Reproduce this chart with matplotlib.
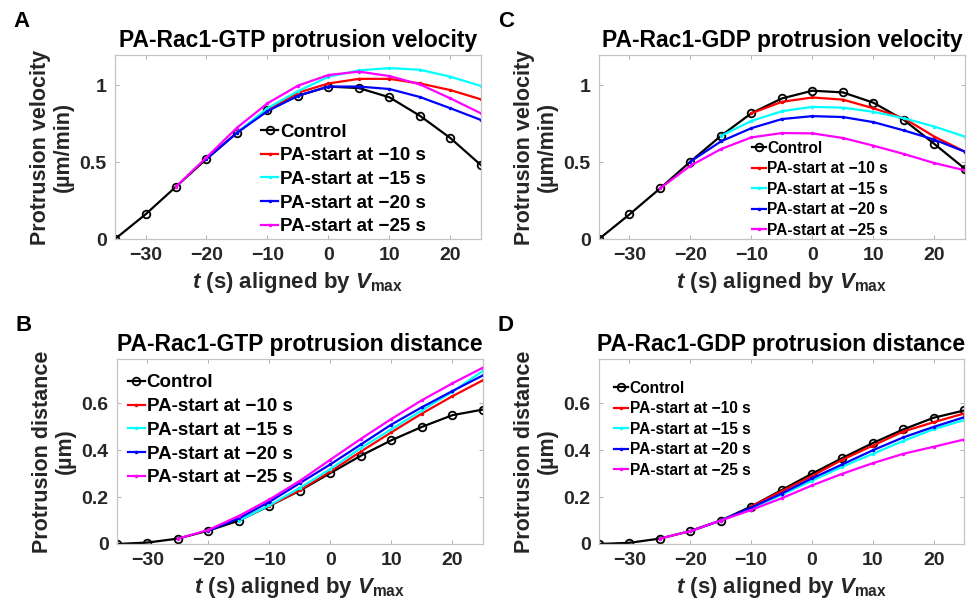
import numpy as np
import matplotlib
matplotlib.use("Agg")
import matplotlib.pyplot as plt

plt.rcParams['font.family'] = ['Liberation Sans', 'DejaVu Sans']
plt.rcParams['font.weight'] = 'bold'
plt.rcParams['axes.labelweight'] = 'bold'
plt.rcParams['axes.titleweight'] = 'bold'
plt.rcParams['mathtext.fontset'] = 'custom'
plt.rcParams['mathtext.it'] = 'Liberation Sans:italic:bold'
plt.rcParams['mathtext.rm'] = 'Liberation Sans:bold'
plt.rcParams['mathtext.bf'] = 'Liberation Sans:bold'

# time axis (s), aligned by Vmax
t = np.arange(-35, 30, 5)
starts = [-10, -15, -20, -25]
labels = ['Control'] + ['PA-start at \u2212%d s' % abs(s) for s in starts]
colors = ['#ff0000', '#00ffff', '#0000ff', '#ff00ff']

# A: PA-Rac1-GTP protrusion velocity (um/min)
gtp_vel_ctrl = [0, 0.16, 0.34, 0.52, 0.69, 0.84, 0.93, 0.99, 0.98, 0.92, 0.80, 0.655, 0.48]
gtp_vel_m10 = [0.84, 0.95, 1.01, 1.04, 1.04, 1.01, 0.967, 0.907]
gtp_vel_m15 = [0.69, 0.85, 0.96, 1.054, 1.095, 1.11, 1.099, 1.054, 0.994]
gtp_vel_m20 = [0.52, 0.69, 0.83, 0.93, 0.99, 0.99, 0.974, 0.922, 0.849, 0.773]
gtp_vel_m25 = [0.34, 0.53, 0.723, 0.881, 0.996, 1.065, 1.087, 1.058, 1.004, 0.913, 0.816]

# C: PA-Rac1-GDP protrusion velocity (um/min)
gdp_vel_ctrl = [0, 0.16, 0.328, 0.503, 0.67, 0.817, 0.913, 0.963, 0.952, 0.885, 0.773, 0.617, 0.456]
gdp_vel_m10 = [0.817, 0.891, 0.919, 0.905, 0.849, 0.784, 0.665, 0.567]
gdp_vel_m15 = [0.67, 0.767, 0.83, 0.858, 0.853, 0.826, 0.784, 0.73, 0.665]
gdp_vel_m20 = [0.503, 0.634, 0.72, 0.779, 0.798, 0.792, 0.759, 0.705, 0.645, 0.567]
gdp_vel_m25 = [0.328, 0.476, 0.584, 0.66, 0.688, 0.686, 0.656, 0.606, 0.552, 0.493, 0.446]

# B: PA-Rac1-GTP protrusion distance (um)
gtp_dist_ctrl = [0, 0.006, 0.023, 0.057, 0.10, 0.163, 0.228, 0.303, 0.377, 0.443, 0.50, 0.55, 0.574]
gtp_dist_m10 = [0.163, 0.23, 0.31, 0.395, 0.477, 0.557, 0.631, 0.699]
gtp_dist_m15 = [0.10, 0.165, 0.24, 0.32, 0.41, 0.49, 0.57, 0.65, 0.739]
gtp_dist_m20 = [0.057, 0.11, 0.18, 0.26, 0.34, 0.425, 0.51, 0.584, 0.653, 0.72]
gtp_dist_m25 = [0.023, 0.06, 0.12, 0.19, 0.27, 0.36, 0.449, 0.534, 0.614, 0.686, 0.753]

# D: PA-Rac1-GDP protrusion distance (um)
gdp_dist_ctrl = [0, 0.005, 0.023, 0.055, 0.10, 0.16, 0.23, 0.30, 0.367, 0.431, 0.489, 0.539, 0.57]
gdp_dist_m10 = [0.16, 0.225, 0.29, 0.36, 0.42, 0.48, 0.52, 0.557]
gdp_dist_m15 = [0.10, 0.15, 0.21, 0.27, 0.33, 0.385, 0.44, 0.49, 0.529]
gdp_dist_m20 = [0.055, 0.10, 0.155, 0.215, 0.28, 0.34, 0.40, 0.455, 0.50, 0.541]
gdp_dist_m25 = [0.023, 0.055, 0.10, 0.145, 0.195, 0.25, 0.30, 0.345, 0.385, 0.415, 0.446]

panels = [
    ('A', 'PA-Rac1-GTP protrusion velocity', 'Protrusion velocity\n(\u00b5m/min)',
     [gtp_vel_ctrl, gtp_vel_m10, gtp_vel_m15, gtp_vel_m20, gtp_vel_m25],
     [0.1182, 0.6101, 0.3761, 0.3002], 1.195, [0, 0.5, 1], (0.40, 0.628), 13.5, 0.35),
    ('C', 'PA-Rac1-GDP protrusion velocity', 'Protrusion velocity\n(\u00b5m/min)',
     [gdp_vel_ctrl, gdp_vel_m10, gdp_vel_m15, gdp_vel_m20, gdp_vel_m25],
     [0.6156, 0.6101, 0.3761, 0.3002], 1.195, [0, 0.5, 1], (0.418, 0.533), 11.2, 0.35),
    ('B', 'PA-Rac1-GTP protrusion distance', 'Protrusion distance\n(\u00b5m)',
     [gtp_dist_ctrl, gtp_dist_m10, gtp_dist_m15, gtp_dist_m20, gtp_dist_m25],
     [0.1202, 0.1126, 0.3761, 0.3018], 0.79, [0, 0.2, 0.4, 0.6], (0.03, 0.917), 13.5, 0.35),
    ('D', 'PA-Rac1-GDP protrusion distance', 'Protrusion distance\n(\u00b5m)',
     [gdp_dist_ctrl, gdp_dist_m10, gdp_dist_m15, gdp_dist_m20, gdp_dist_m25],
     [0.6156, 0.1126, 0.3752, 0.3018], 0.79, [0, 0.2, 0.4, 0.6], (0.041, 0.882), 11.2, 0.35),
]

fig = plt.figure(figsize=(9.73, 6.13), dpi=100)
txt = '#262626'
for letter, title, ylab, series, pos, ytop, yt, legpos, legfs, legsp in panels:
    ax = fig.add_axes(pos)
    ctrl = series[0]
    ax.plot(t, ctrl, color='k', lw=1.6, marker='o', ms=5.5, mfc='none', mew=1.3, label=labels[0])
    for s, y, c, lab in zip(starts, series[1:], colors, labels[1:]):
        tt = t[t >= s]
        ax.plot(tt, y, color=c, lw=1.6, marker='.', ms=3, label=lab)
    ax.set_xlim(-35, 25)
    ax.set_ylim(0, ytop)
    ax.set_xticks([-30, -20, -10, 0, 10, 20])
    ax.set_yticks(yt)
    ax.set_yticklabels(['%g' % v for v in yt])
    for lab in ax.get_xticklabels() + ax.get_yticklabels():
        lab.set_fontweight('bold')
    for sp in ax.spines.values():
        sp.set_color('#c4c4c4')
        sp.set_linewidth(0.9)
    ax.tick_params(direction='in', length=3, width=0.7, color='#b0b0b0',
                   top=True, right=True, labelsize=14, labelcolor=txt, pad=6)
    ax.set_title(title, fontsize=16.5, fontweight='bold', color='k', pad=6)
    ax.set_ylabel(ylab, fontsize=15.5, fontweight='bold', color=txt, labelpad=4, linespacing=1.15)
    ax.set_xlabel(r'$t$ (s) aligned by $V_{\mathrm{max}}$', fontsize=16, fontweight='bold',
                  color=txt, labelpad=4)
    leg = ax.legend(loc='upper left', bbox_to_anchor=legpos, frameon=False,
                    fontsize=legfs, handlelength=0.9, handletextpad=0.1,
                    labelspacing=legsp, borderpad=0, borderaxespad=0)
    for tx in leg.get_texts():
        tx.set_fontweight('bold')
    fig.text(pos[0] - 0.104, pos[1] + pos[3] + 0.055, letter, fontsize=16, fontweight='bold',
             ha='left', va='center')

fig.savefig('out.png', dpi=100)
